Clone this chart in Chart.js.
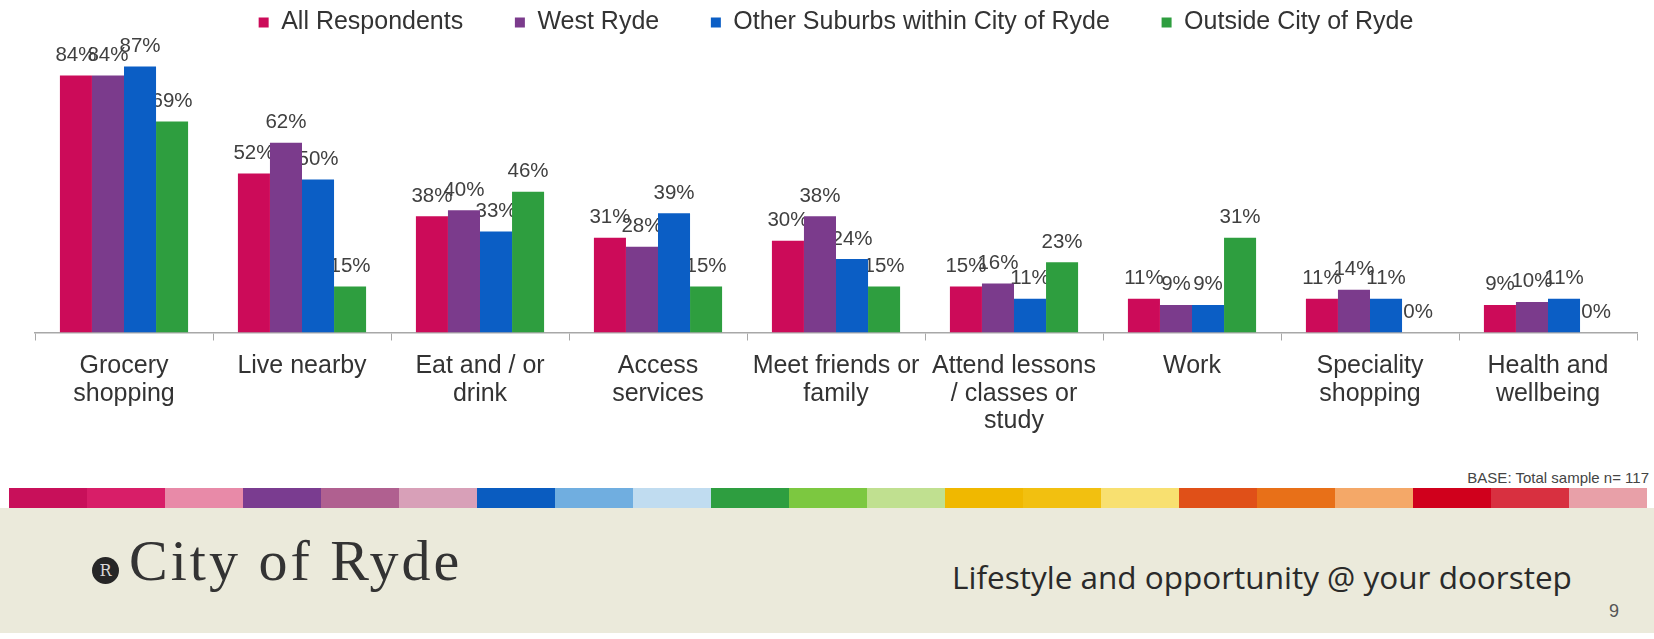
<!DOCTYPE html>
<html>
<head>
<meta charset="utf-8">
<title>City of Ryde - reasons for visiting</title>
<script src="https://cdn.jsdelivr.net/npm/chart.js@4.4.1/dist/chart.umd.min.js"></script>
<style>
  body { margin: 0; width: 1654px; height: 639px; overflow: hidden; background: #fff; position: relative; font-family: "Liberation Sans", Arial, sans-serif; }
  #chartBox { position: absolute; left: 0; top: 0; width: 1654px; height: 447px; }
  #base { position: absolute; right: 5px; top: 470px; font-size: 15px; line-height: 15px; color: #444; }
  #strip { position: absolute; left: 9px; top: 488px; height: 20px; display: flex; }
  #strip div { width: 78px; height: 100%; }
  #footer { position: absolute; left: 0; top: 508px; width: 1654px; height: 125px; background: #ebeadb; }
  #logo { position: absolute; left: 92px; top: 49px; width: 27px; height: 27px; border-radius: 50%; background: #262626; color: #d8d8d8; font: 16px/27px "DejaVu Serif", serif; text-align: center; }
  #city { position: absolute; left: 129px; top: 24px; font: 58px/58px "Liberation Serif", serif; letter-spacing: 3px; color: #333; white-space: nowrap; }
  #tag { position: absolute; left: 952px; top: 53px; font: 31.5px/32px "Open Sans", sans-serif; color: #2a2a2a; white-space: nowrap; }
  #page { position: absolute; left: 1609px; top: 94px; font: 18px/18px "Liberation Sans", sans-serif; color: #555; }
</style>
</head>
<body>
<div id="chartBox"><canvas id="razones"></canvas></div>
<div id="base">BASE: Total sample n= 117</div>
<div id="strip"></div>
<div id="footer">
  <div id="logo">R</div>
  <div id="city">City of Ryde</div>
  <div id="tag">Lifestyle and opportunity @ your doorstep</div>
  <div id="page">9</div>
</div>
<script>
// reasons for visiting West Ryde, % of respondents
const categorias = [
  ['Grocery', 'shopping'], ['Live nearby'], ['Eat and / or', 'drink'], ['Access', 'services'],
  ['Meet friends or', 'family'], ['Attend lessons', '/ classes or', 'study'], ['Work'],
  ['Speciality', 'shopping'], ['Health and', 'wellbeing']];
const series = ['All Respondents', 'West Ryde', 'Other Suburbs within City of Ryde', 'Outside City of Ryde'];
const allRespondents = [84, 52, 38, 31, 30, 15, 11, 11, 9];
const westRyde = [84, 62, 40, 28, 38, 16, 9, 14, 10];
const otherSuburbs = [87, 50, 33, 39, 24, 11, 9, 11, 11];
const outsideRyde = [69, 15, 46, 15, 15, 23, 31, 0, 0];

const colores = ['#cc0b59', '#7b3b8c', '#0b5ec5', '#2e9e3f'];
const franja = ['#c8105a', '#d81e68', '#e88aa8', '#7a3c90', '#b06090', '#d8a0b8', '#0a5cc0',
  '#70aee0', '#c0dcf0', '#2e9e40', '#7cc840', '#c0e090', '#f0b800', '#f2c010', '#f8e070',
  '#e05018', '#e87018', '#f4a868', '#d0001c', '#d83040', '#e8a0a8'];

const strip = document.getElementById('strip');
franja.forEach(c => {
  const d = document.createElement('div');
  d.style.background = c;
  strip.append(d);
});

const fuente = '"Liberation Sans", Arial, sans-serif';

// % labels over the bars, drawn behind them like the original
const etiquetas = {
  id: 'etiquetas',
  beforeDatasetsDraw(chart) {
    const ctx = chart.ctx;
    ctx.save();
    ctx.font = '20.5px ' + fuente;
    ctx.fillStyle = '#404040';
    ctx.textAlign = 'center';
    ctx.textBaseline = 'bottom';
    chart.data.datasets.forEach((ds, i) => {
      chart.getDatasetMeta(i).data.forEach((bar, j) => {
        ctx.fillText(ds.data[j] + '%', bar.x, bar.y - 10);
      });
    });
    ctx.restore();
  }
};

const valores = [allRespondents, westRyde, otherSuburbs, outsideRyde];

const ctx = document.getElementById('razones').getContext('2d');
const grafico = new Chart(ctx, {
  type: 'bar',
  data: {
    labels: categorias,
    datasets: series.map((s, i) => ({
      label: s,
      data: valores[i],
      backgroundColor: colores[i],
      borderWidth: 0,
      categoryPercentage: 0.72,
      barPercentage: 1.0
    }))
  },
  options: {
    responsive: true,
    maintainAspectRatio: false,
    animation: false,
    layout: { padding: { left: 35, right: 17, top: 0, bottom: 0 } },
    plugins: {
      tooltip: { enabled: false },
      legend: {
        position: 'top',
        labels: {
          boxWidth: 10,
          boxHeight: 10,
          padding: 10,
          color: '#333',
          font: { family: fuente, size: 25 },
          generateLabels(chart) {
            const items = Chart.defaults.plugins.legend.labels.generateLabels(chart);
            items.forEach((it, i) => { if (i < items.length - 1) it.text += '      '; });
            return items;
          }
        }
      }
    },
    scales: {
      x: {
        grid: { display: true, drawOnChartArea: false, drawTicks: true, tickLength: 8, color: '#a8a8a8', offset: true },
        border: { color: '#a8a8a8', width: 1.5 },
        ticks: { color: '#333', font: { family: fuente, size: 25, lineHeight: 1.1 }, padding: 12, maxRotation: 0, autoSkip: false }
      },
      y: { display: false, min: 0, max: 94 }
    }
  },
  plugins: [etiquetas]
});
</script>
</body>
</html>
